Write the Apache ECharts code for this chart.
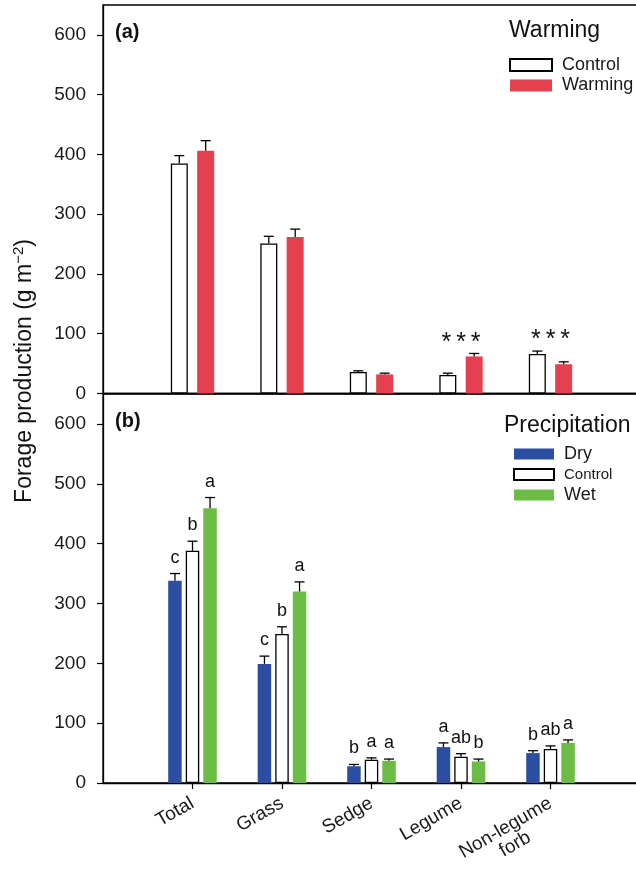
<!DOCTYPE html>
<html>
<head>
<meta charset="utf-8">
<title>Forage production</title>
<script src="https://cdn.jsdelivr.net/npm/echarts@6/dist/echarts.min.js"></script>
<style>
  html, body { margin: 0; padding: 0; background: #fff; }
  #chart { width: 636px; height: 870px; }
</style>
</head>
<body>
<div id="chart"></div>
<script>
// categories along x (value axis positions 1..5)
const categories = ['Total', 'Grass', 'Sedge', 'Legume', 'Non-legume\nforb'];
const catPos = [1, 2, 3, 4, 5];
const yTicks = [0, 100, 200, 300, 400, 500, 600];

// (a) warming
const warmControl = [385, 251, 36, 31, 66];
const warmControlErr = [13, 12, 2, 3, 5];
const warmWarming = [406, 262, 32, 62, 49];
const warmWarmingErr = [17, 13, 2, 5, 4];
const warmSig = ['', '', '', '***', '***'];

// (b) precipitation
const precDry = [338, 199, 28, 60, 50];
const precDryErr = [12, 13, 3, 7, 4];
const precControl = [388, 249, 39, 44, 57];
const precControlErr = [16, 12, 3, 5, 5];
const precWet = [459, 320, 37, 36, 67];
const precWetErr = [18, 16, 3, 4, 5];
const precDryLetters = ['c', 'c', 'b', 'a', 'b'];
const precControlLetters = ['b', 'b', 'a', 'ab', 'ab'];
const precWetLetters = ['a', 'a', 'a', 'b', 'a'];

const FONT = '"Liberation Sans", Arial, Helvetica, sans-serif';
const RED = '#E5404F';
const BLUE = '#2B4EA2';
const GREEN = '#6CBD45';

const chart = echarts.init(document.getElementById('chart'), null, { renderer: 'canvas' });

function pairs(vals) {
  return vals.map((v, i) => [catPos[i], v]);
}

// upward error bar + optional letter above it, offset in px from the group centre
function errSeries(idx, vals, errs, labels, offset) {
  return {
    type: 'custom',
    xAxisIndex: idx,
    yAxisIndex: idx,
    z: 5,
    silent: true,
    data: vals.map((v, i) => [catPos[i], v, errs[i]]),
    renderItem: function (params, api) {
      const base = api.coord([api.value(0), api.value(1)]);
      const top = api.coord([api.value(0), api.value(1) + api.value(2)]);
      const x = base[0] + offset;
      const kids = [
        { type: 'line', shape: { x1: x, y1: base[1], x2: x, y2: top[1] }, style: { stroke: '#000', lineWidth: 1.3 } },
        { type: 'line', shape: { x1: x - 5, y1: top[1], x2: x + 5, y2: top[1] }, style: { stroke: '#000', lineWidth: 1.3 } }
      ];
      const txt = labels ? labels[params.dataIndex] : '';
      if (txt) {
        kids.push({
          type: 'text', x: x, y: top[1] - 7,
          style: { text: txt, fill: '#111', font: '18px ' + FONT, textAlign: 'center', textVerticalAlign: 'bottom' }
        });
      }
      return { type: 'group', children: kids };
    }
  };
}

// significance stars above a pair of bars
function starSeries() {
  return {
    type: 'custom',
    xAxisIndex: 0,
    yAxisIndex: 0,
    z: 5,
    silent: true,
    data: catPos.map((p, i) => [p, Math.max(warmControl[i] + warmControlErr[i], warmWarming[i] + warmWarmingErr[i])]),
    renderItem: function (params, api) {
      const txt = warmSig[params.dataIndex];
      if (!txt) return null;
      const pt = api.coord([api.value(0), api.value(1)]);
      return {
        type: 'text', x: pt[0], y: pt[1] + 2,
        style: { text: txt.split('').join('\u2009'), fill: '#111', font: '25px ' + FONT, textAlign: 'center', textVerticalAlign: 'bottom' }
      };
    }
  };
}

function yAxis(idx) {
  return {
    type: 'value', gridIndex: idx, min: 0, max: 650,
    axisLine: { show: true, lineStyle: { color: '#000', width: 1.3 } },
    axisTick: { show: true, length: 6, customValues: yTicks, lineStyle: { color: '#000', width: 1.2 } },
    axisLabel: { customValues: yTicks, fontSize: 19, color: '#1a1a1a', fontFamily: FONT, margin: 17 },
    splitLine: { show: false }
  };
}

const option = {
  backgroundColor: '#fff',
  animation: false,
  grid: [
    { left: 103, top: 5, width: 537, height: 388.5, show: true, borderColor: '#000', borderWidth: 1.3, outerBoundsMode: 'none', containLabel: false },
    { left: 103, top: 394, width: 537, height: 389, show: true, borderColor: '#000', borderWidth: 1.3, outerBoundsMode: 'none', containLabel: false }
  ],
  xAxis: [
    {
      type: 'value', gridIndex: 0, min: 0, max: 6,
      axisLine: { show: true, lineStyle: { color: '#000', width: 1.3 } },
      axisTick: { show: false }, axisLabel: { show: false }, splitLine: { show: false }
    },
    {
      type: 'value', gridIndex: 1, min: 0, max: 6,
      axisLine: { show: true, lineStyle: { color: '#000', width: 1.3 } },
      axisTick: { show: true, length: 6, customValues: catPos, lineStyle: { color: '#000', width: 1.2 } },
      axisLabel: {
        customValues: catPos, rotate: 30, margin: 19, color: '#1a1a1a', fontSize: 19, fontFamily: FONT,
        formatter: function (v) {
          const name = categories[Math.round(v) - 1] || '';
          if (name.indexOf('\n') < 0) return name;
          // blank first line keeps the top line centred on the tick
          const parts = name.split('\n');
          return '{e| }\n{a|' + parts[0] + '}\n{b|' + parts[1] + '}';
        },
        rich: {
          e: { fontSize: 19, fontFamily: FONT, lineHeight: 19 },
          a: { fontSize: 19, fontFamily: FONT, color: '#1a1a1a', lineHeight: 19 },
          b: { fontSize: 19, fontFamily: FONT, color: '#1a1a1a', lineHeight: 19, width: 103, align: 'center' }
        }
      },
      splitLine: { show: false }
    }
  ],
  yAxis: [yAxis(0), yAxis(1)],
  legend: [
    {
      data: ['Control', 'Warming'], orient: 'vertical', left: 509, top: 56, padding: 0,
      itemWidth: 42, itemHeight: 12, itemGap: 2.5, icon: 'rect', selectedMode: false,
      textStyle: { fontSize: 18, fontFamily: FONT, color: '#1a1a1a', lineHeight: 14, padding: [0, 0, 0, 5] }
    },
    {
      data: ['Dry', 'Control', 'Wet'], orient: 'vertical', left: 513, top: 445, padding: 0,
      itemWidth: 40, itemHeight: 11, itemGap: 4, icon: 'rect', selectedMode: false,
      formatter: function (name) { return name === 'Control' ? '{s|Control}' : '{n|' + name + '}'; },
      textStyle: {
        fontSize: 18, fontFamily: FONT, color: '#1a1a1a', lineHeight: 14, padding: [0, 0, 0, 5],
        rich: {
          n: { fontSize: 18, fontFamily: FONT, color: '#1a1a1a', lineHeight: 14 },
          s: { fontSize: 15, fontFamily: FONT, color: '#1a1a1a', lineHeight: 14 }
        }
      }
    }
  ],
  graphic: [
    { type: 'text', left: 115, top: 22, style: { text: '(a)', font: 'bold 20px ' + FONT, fill: '#111' } },
    { type: 'text', left: 115, top: 411, style: { text: '(b)', font: 'bold 20px ' + FONT, fill: '#111' } },
    { type: 'text', x: 509, y: 31, style: { text: 'Warming', font: '23px ' + FONT, fill: '#111', textVerticalAlign: 'middle' } },
    { type: 'text', x: 504, y: 426, style: { text: 'Precipitation', font: '23px ' + FONT, fill: '#111', textVerticalAlign: 'middle' } },
    {
      type: 'text', x: 25, y: 371, rotation: Math.PI / 2,
      style: {
        text: '{n|Forage production (g m}{s|−2}{n|)}',
        textAlign: 'center', textVerticalAlign: 'middle',
        rich: {
          n: { font: '23px ' + FONT, fill: '#111', lineHeight: 27 },
          s: { font: '15px ' + FONT, fill: '#111', lineHeight: 27, verticalAlign: 'top' }
        }
      }
    }
  ],
  series: [
    {
      type: 'bar', name: 'Control', xAxisIndex: 0, yAxisIndex: 0, barWidth: 17, barGap: '55%',
      data: pairs(warmControl), itemStyle: { color: '#fff', borderColor: '#000', borderWidth: 1.3 }
    },
    {
      type: 'bar', name: 'Warming', xAxisIndex: 0, yAxisIndex: 0, barWidth: 17, barGap: '55%',
      data: pairs(warmWarming), itemStyle: { color: RED }
    },
    errSeries(0, warmControl, warmControlErr, null, -13.2),
    errSeries(0, warmWarming, warmWarmingErr, null, 13.2),
    starSeries(),
    {
      type: 'bar', name: 'Dry', xAxisIndex: 1, yAxisIndex: 1, barWidth: 13.5, barGap: '30%',
      data: pairs(precDry), itemStyle: { color: BLUE }
    },
    {
      type: 'bar', name: 'Control', xAxisIndex: 1, yAxisIndex: 1, barWidth: 13.5, barGap: '30%',
      data: pairs(precControl), itemStyle: { color: '#fff', borderColor: '#000', borderWidth: 1.3 }
    },
    {
      type: 'bar', name: 'Wet', xAxisIndex: 1, yAxisIndex: 1, barWidth: 13.5, barGap: '30%',
      data: pairs(precWet), itemStyle: { color: GREEN }
    },
    errSeries(1, precDry, precDryErr, precDryLetters, -17.55),
    errSeries(1, precControl, precControlErr, precControlLetters, 0),
    errSeries(1, precWet, precWetErr, precWetLetters, 17.55)
  ]
};

chart.setOption(option);
</script>
</body>
</html>
